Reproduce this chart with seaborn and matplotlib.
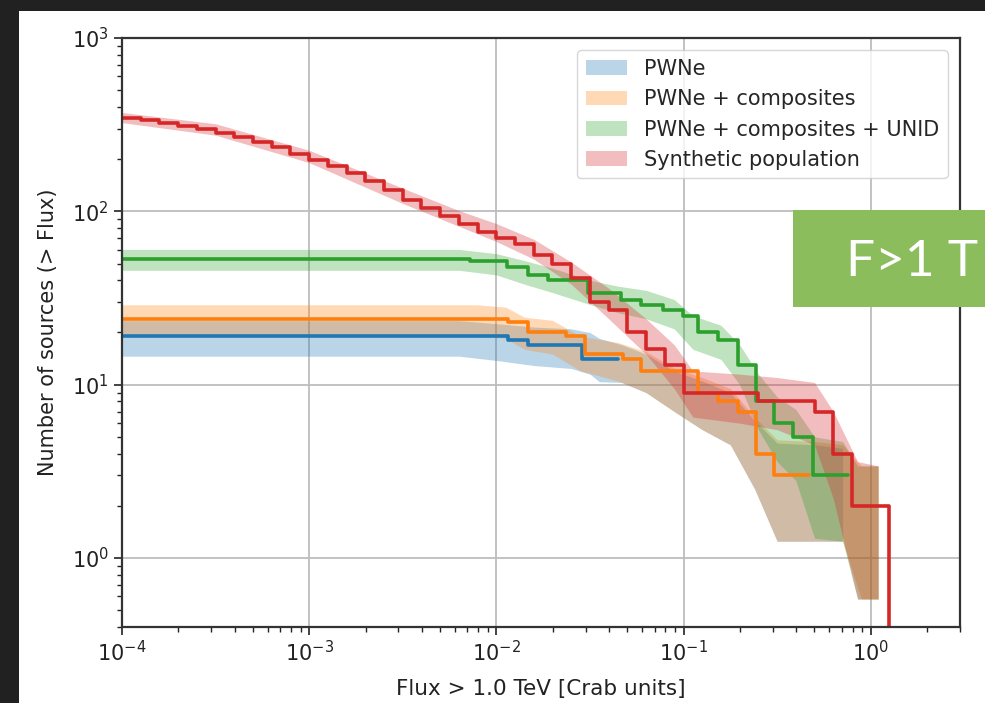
import numpy as np
import matplotlib
matplotlib.use("Agg")
import matplotlib.pyplot as plt
import seaborn as sns
from matplotlib.patches import Rectangle

# ---- step curves (flux where the count changes, number of sources above) ----
blue_flux = [1e-4, 0.0115, 0.0148, 0.0288, 0.0449]
blue_n = [19, 18, 17, 14, 14]

orange_flux = [1e-4, 0.0115, 0.0148, 0.0237, 0.0296, 0.0477, 0.0596,
               0.120, 0.152, 0.195, 0.243, 0.303, 0.466]
orange_n = [24, 23, 20, 19, 15, 14, 12, 9, 8, 7, 4, 3, 3]

green_flux = [1e-4, 0.00726, 0.01146, 0.01483, 0.01897, 0.0307, 0.0466, 0.0596,
              0.0773, 0.0989, 0.119, 0.152, 0.195, 0.243, 0.303, 0.383, 0.490, 0.753]
green_n = [53, 52, 48, 43, 40, 34, 31, 29, 27, 25, 20, 18, 13, 8, 6, 5, 3, 3]

# synthetic population, 0.1 dex bins from 1e-4
red_log_edges = np.round(np.arange(-4.0, 0.15, 0.1), 2)
red_n = [345, 335, 322, 310, 297, 283, 268, 252, 236, 215, 197, 182, 167, 150,
         133, 117, 104, 94, 85, 76, 70, 65, 56, 50, 41, 30, 27, 20, 16, 13,
         9, 9, 9, 9, 8, 8, 8, 7, 4, 2, 2, 0]

# ---- uncertainty bands (log10 flux, lower, upper) ----
blue_band_log = [-4.0, -2.2, -2.0, -1.8, -1.6, -1.5, -1.45, -1.33, -1.2, -1.05,
                 -0.9, -0.75, -0.62, -0.5, -0.3, -0.15]
blue_lo = [14.6, 14.6, 13.8, 12.9, 12.4, 11.5, 10.4, 10.3, 9, 7, 5.5, 4.5, 2.5,
           1.25, 1.25, 1.25]
blue_hi = [23.4, 23.4, 22.5, 21.5, 21.0, 20.0, 18.5, 17, 15, 12, 10.5, 9, 6.2,
           4.6, 4.5, 4.3]

orange_band_log = [-4.0, -2.1, -1.95, -1.85, -1.7, -1.55, -1.35, -1.2, -1.05,
                   -0.9, -0.75, -0.62, -0.5, -0.3, -0.15, -0.05, 0.04]
orange_lo = [19.1, 19.1, 18.5, 16, 15, 12, 10.5, 9, 7, 5.5, 4.5, 2.5, 1.25,
             1.25, 1.25, 0.58, 0.58]
orange_hi = [28.9, 28.9, 28, 24.5, 23.5, 19, 17.5, 15.5, 12.5, 11, 9.5, 6.5,
             4.8, 4.7, 4.5, 3.4, 3.4]

green_band_log = [-4.0, -2.2, -2.0, -1.85, -1.7, -1.5, -1.35, -1.2, -1.05, -0.95,
                  -0.8, -0.7, -0.6, -0.5, -0.4, -0.3, -0.15, -0.07, 0.04]
green_lo = [45.7, 45.7, 43, 38, 34, 29, 26, 24, 21, 16, 14, 10, 5.5, 3.6, 2.8,
            1.3, 1.25, 0.58, 0.58]
green_hi = [60.3, 60.3, 57, 52, 47, 40, 37, 35, 31, 25, 22, 17, 11.5, 8.5, 7.2,
            5, 4.7, 3.4, 3.4]

red_band_log = [-4.0, -3.5, -3.0, -2.5, -2.2, -2.0, -1.8, -1.6, -1.4, -1.2,
                -1.05, -0.95, -0.7, -0.5, -0.3, -0.2, -0.07, 0.04]
red_lo = [325, 275, 191, 111, 82, 67, 53, 38, 24, 15, 9.5, 6.5, 6, 5.5, 4.5,
          2.2, 0.58, 0.58]
red_hi = [372, 320, 225, 136, 101, 85, 69, 51, 36, 24, 17, 12, 11.5, 11, 10.3,
          7, 3.6, 3.4]

labels = ["PWNe", "PWNe + composites", "PWNe + composites + UNID",
          "Synthetic population"]
colors = ["#1f77b4", "#ff7f0e", "#2ca02c", "#d62728"]

sns.set_style("ticks", {"axes.grid": True, "grid.color": "#b0b0b0",
                        "axes.edgecolor": "#333333"})
plt.rcParams["font.family"] = ["DejaVu Sans"]

fig = plt.figure(figsize=(9.85, 7.03), dpi=100)
fig.patch.set_facecolor("#212121")
fig.add_artist(Rectangle((19 / 985, 0), 1, 1 - 11 / 703, transform=fig.transFigure,
                         facecolor="white", edgecolor="none", zorder=-5))
ax = fig.add_axes([122 / 985, 1 - 627 / 703, (960 - 122) / 985, (627 - 38) / 703])

bands = [(blue_band_log, blue_lo, blue_hi), (orange_band_log, orange_lo, orange_hi),
         (green_band_log, green_lo, green_hi), (red_band_log, red_lo, red_hi)]
for (bx, lo, hi), c, lab in zip(bands, colors, labels):
    ax.fill_between(10 ** np.array(bx), lo, hi, color=c, alpha=0.3, lw=0, label=lab)

steps = [(blue_flux, blue_n), (orange_flux, orange_n), (green_flux, green_n),
         (list(10 ** red_log_edges), red_n)]
for (fx, fn), c in zip(steps, colors):
    sns.lineplot(x=fx, y=fn, ax=ax, color=c, lw=2.6, drawstyle="steps-post",
                 estimator=None, sort=False, legend=False)

ax.set_xscale("log")
ax.set_yscale("log")
ax.set_xlim(1e-4, 3)
ax.set_ylim(0.4, 1000)
ax.grid(True, which="major", color="#bdbdbd", lw=1.3)
ax.grid(False, which="minor")
ax.tick_params(which="major", length=6, width=1.2, labelsize=15, colors="#222222")
ax.tick_params(which="minor", length=3.5, width=1.0, colors="#222222")
for s in ax.spines.values():
    s.set_linewidth(1.6)
    s.set_color("#333333")
ax.set_xlabel("Flux > 1.0 TeV [Crab units]", fontsize=15.5, color="#222222",
              labelpad=10)
ax.set_ylabel("Number of sources (> Flux)", fontsize=15, color="#222222", labelpad=10)

ax.legend(loc="upper right", fontsize=15, frameon=True, borderaxespad=0.6,
          handlelength=2.0, labelspacing=0.5)

# green label box on top of the slide
fig.add_artist(Rectangle((793 / 985, 1 - 307 / 703), (985 - 793) / 985, 97 / 703,
                         transform=fig.transFigure, facecolor="#8bbd5c",
                         edgecolor="none", zorder=10))
fig.text(846 / 985, 1 - 276 / 703, "F>1 T", color="white", fontsize=37,
         family=["Lato", "DejaVu Sans"], fontweight="normal", va="baseline",
         ha="left", zorder=11)

fig.savefig("out.png", dpi=100, facecolor=fig.get_facecolor())
